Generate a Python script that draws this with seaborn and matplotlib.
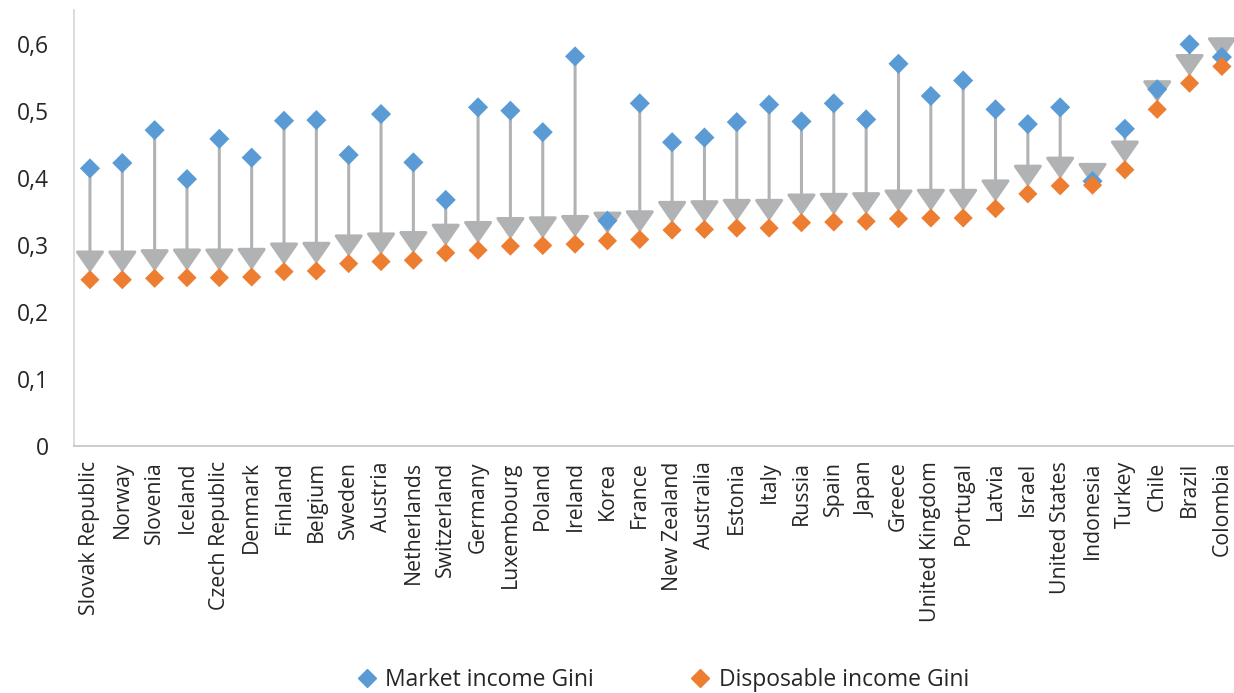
import numpy as np
import pandas as pd
import matplotlib
matplotlib.use('Agg')
import matplotlib.pyplot as plt
from matplotlib.ticker import FuncFormatter
from matplotlib.lines import Line2D
import seaborn as sns

# Datos
countries = ['Slovak Republic', 'Norway', 'Slovenia', 'Iceland', 'Czech Republic', 'Denmark',
             'Finland', 'Belgium', 'Sweden', 'Austria', 'Netherlands', 'Switzerland', 'Germany',
             'Luxembourg', 'Poland', 'Ireland', 'Korea', 'France', 'New Zealand', 'Australia',
             'Estonia', 'Italy', 'Russia', 'Spain', 'Japan', 'Greece', 'United Kingdom',
             'Portugal', 'Latvia', 'Israel', 'United States', 'Indonesia', 'Turkey', 'Chile',
             'Brazil', 'Colombia']
market_gini = [0.414, 0.422, 0.471, 0.398, 0.458, 0.430, 0.485, 0.486, 0.434, 0.495, 0.423,
               0.367, 0.505, 0.500, 0.468, 0.581, 0.336, 0.511, 0.453, 0.460, 0.483, 0.509,
               0.484, 0.511, 0.487, 0.570, 0.522, 0.545, 0.502, 0.480, 0.505, 0.395, 0.473,
               0.532, 0.599, 0.580]
disposable_gini = [0.248, 0.248, 0.250, 0.251, 0.251, 0.252, 0.260, 0.261, 0.272, 0.275, 0.277,
                   0.288, 0.292, 0.298, 0.299, 0.301, 0.306, 0.308, 0.322, 0.323, 0.325, 0.325,
                   0.333, 0.334, 0.335, 0.339, 0.340, 0.340, 0.354, 0.376, 0.388, 0.389, 0.412,
                   0.502, 0.541, 0.566]

df = pd.DataFrame({'Country': countries, 'Market': market_gini, 'Disposable': disposable_gini})

blue = '#5B9BD5'
orange = '#ED7D31'
gray = '#B1B2B4'

sns.set_style('white')
plt.rcParams['font.family'] = ['Open Sans', 'DejaVu Sans']

fig = plt.figure(figsize=(12.34, 6.93), dpi=100)
ax = fig.add_axes([0.0598, 0.3564, 0.9435, 0.629])

# Flechas de mercado a disponible
for i, row in df.iterrows():
    ax.annotate('', xy=(i, row['Disposable']), xytext=(i, row['Market']),
                arrowprops=dict(arrowstyle='-|>,head_length=1.3,head_width=0.9',
                                color=gray, lw=2.2, shrinkA=0, shrinkB=5),
                zorder=1)

sns.scatterplot(data=df, x='Country', y='Market', marker='D', s=105, color=blue,
                edgecolor='none', linewidth=0, ax=ax, zorder=3)
sns.scatterplot(data=df, x='Country', y='Disposable', marker='D', s=95, color=orange,
                edgecolor='none', linewidth=0, ax=ax, zorder=4)

ax.set_xlim(-0.5, len(countries) - 0.5)
ax.set_ylim(0, 0.65)
ax.set_yticks(np.arange(0, 0.61, 0.1))
ax.yaxis.set_major_formatter(FuncFormatter(lambda v, p: '0' if abs(v) < 1e-9 else f'{v:.1f}'.replace('.', ',')))
ax.set_xlabel('')
ax.set_ylabel('')
ax.tick_params(axis='x', rotation=90, labelsize=15.3, length=0, pad=11, colors='#262626')
ax.tick_params(axis='y', labelsize=16.5, length=0, pad=18, colors='#262626')

for s in ['top', 'right']:
    ax.spines[s].set_visible(False)
ax.spines['left'].set_color('#D9D9D9')
ax.spines['bottom'].set_color('#C8C8C8')
ax.spines['left'].set_linewidth(1.3)
ax.spines['bottom'].set_linewidth(1.3)

handles = [Line2D([], [], marker='D', color=blue, linestyle='none', markersize=9),
           Line2D([], [], marker='D', color=orange, linestyle='none', markersize=9)]
fig.legend(handles, ['Market income Gini', 'Disposable income Gini'], loc='center',
           bbox_to_anchor=(0.536, 0.019), ncol=2, frameon=False, fontsize=16.5,
           handlelength=1.1, handletextpad=0.25, columnspacing=4.1, labelcolor='#262626')

plt.savefig('out.png', dpi=100)
